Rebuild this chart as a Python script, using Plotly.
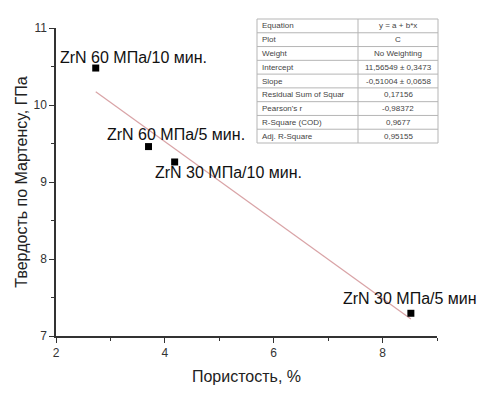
import plotly.graph_objects as go

porosity = [2.73, 3.70, 4.18, 8.52]
hardness = [10.48, 9.46, 9.26, 7.295]
labels = ["ZrN 60 МПа/10 мин.", "ZrN 60 МПа/5 мин.", "ZrN 30 МПа/10 мин.", "ZrN 30 МПа/5 мин"]
label_x = [2.04, 2.90, 3.78, 7.23]
label_y = [10.62, 9.62, 9.12, 7.49]

intercept = 11.56549
slope = -0.51004

table_names = ["Equation", "Plot", "Weight", "Intercept", "Slope", "Residual Sum of Squar",
               "Pearson's r", "R-Square (COD)", "Adj. R-Square"]
table_values = ["y = a + b*x", "C", "No Weighting", "11,56549 ± 0,3473", "-0,51004 ± 0,0658",
                "0,17156", "-0,98372", "0,9677", "0,95155"]

W, H = 493, 394
ML, MR, MT, MB = 56, 56, 28, 58
PW, PH = W - ML - MR, H - MT - MB


def px_x(p):
    return (p - ML) / PW


def px_y(p):
    return (H - MB - p) / PH


fit_x = [min(porosity), max(porosity)]
fit_y = [intercept + slope * v for v in fit_x]

FONT = "Liberation Sans, Arial"

fig = go.Figure()
fig.add_trace(go.Scatter(x=fit_x, y=fit_y, mode="lines",
                         line=dict(color="#d9a3a6", width=1.2), showlegend=False))
fig.add_trace(go.Scatter(x=porosity, y=hardness, mode="markers",
                         marker=dict(symbol="square", size=7, color="black"), showlegend=False))

for t, xx, yy in zip(labels, label_x, label_y):
    fig.add_annotation(x=xx, y=yy, text=t, showarrow=False, xanchor="left", yanchor="middle",
                       font=dict(size=16, color="#111", family=FONT))

# fit-result table (paper coordinates)
tx0, tx1, tx2 = 257, 358, 438
ty0, ty1 = 19, 143
n = len(table_names)
rh = (ty1 - ty0) / n
grid = dict(color="#b5b5b5", width=1)
fig.add_shape(type="rect", xref="paper", yref="paper", x0=px_x(tx0), x1=px_x(tx2),
              y0=px_y(ty1), y1=px_y(ty0), line=grid, fillcolor="white", layer="above")
fig.add_shape(type="line", xref="paper", yref="paper", x0=px_x(tx1), x1=px_x(tx1),
              y0=px_y(ty1), y1=px_y(ty0), line=grid, layer="above")
for i in range(1, n):
    yy = ty0 + i * rh
    fig.add_shape(type="line", xref="paper", yref="paper", x0=px_x(tx0), x1=px_x(tx2),
                  y0=px_y(yy), y1=px_y(yy), line=grid, layer="above")
for i, (nm, val) in enumerate(zip(table_names, table_values)):
    yc = ty0 + (i + 0.5) * rh
    fig.add_annotation(xref="paper", yref="paper", x=px_x(tx0 + 3), y=px_y(yc), text=nm,
                       showarrow=False, xanchor="left", yanchor="middle",
                       font=dict(size=8, color="#444", family=FONT))
    fig.add_annotation(xref="paper", yref="paper", x=px_x((tx1 + tx2) / 2), y=px_y(yc), text=val,
                       showarrow=False, xanchor="center", yanchor="middle",
                       font=dict(size=8, color="#444", family=FONT))

axis_common = dict(showline=True, linecolor="#333", linewidth=1.5, ticks="outside",
                   ticklen=5, tickcolor="#333", tickwidth=1.2, showgrid=False, zeroline=False,
                   tickfont=dict(size=12, color="#333", family=FONT),
                   mirror=False, automargin=False)

fig.update_layout(
    width=W, height=H,
    margin=dict(l=ML, r=MR, t=MT, b=MB),
    paper_bgcolor="white", plot_bgcolor="white",
    font=dict(family=FONT),
    xaxis=dict(range=[2, 9], tickvals=[2, 4, 6, 8],
               minor=dict(tickvals=[3, 5, 7, 9], ticks="outside", ticklen=3, tickcolor="#333"),
               title=dict(text="Пористость, %", font=dict(size=16, color="#222"), standoff=12),
               **axis_common),
    yaxis=dict(range=[7, 11], tickvals=[7, 8, 9, 10, 11],
               minor=dict(tickvals=[7.5, 8.5, 9.5, 10.5], ticks="outside", ticklen=3, tickcolor="#333"),
               title=dict(text="Твердость по Мартенсу, ГПа", font=dict(size=16, color="#222"), standoff=2),
               **axis_common),
)

fig.write_html("out.html", config={"displayModeBar": False},
               post_script="document.body.style.margin='0';document.body.style.overflow='hidden';")
